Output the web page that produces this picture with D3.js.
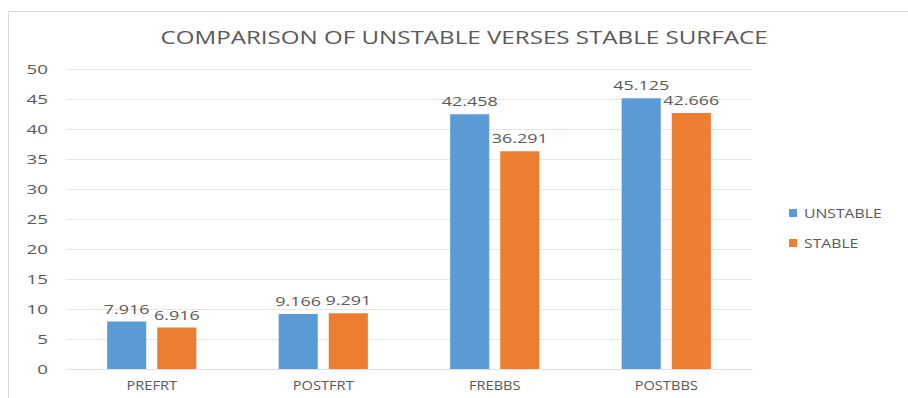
<!DOCTYPE html>
<html>
<head>
<meta charset="utf-8">
<script src="https://cdn.jsdelivr.net/npm/d3@7"></script>
<style>
  body { margin: 0; background: #fff; }
  text { font-family: "Open Sans", "Liberation Sans", sans-serif; fill: #595959; }
</style>
</head>
<body>
<div class="chart"></div>
<script>
const categories = ["PREFRT", "POSTFRT", "FREBBS", "POSTBBS"];
const seriesNames = ["UNSTABLE", "STABLE"];
const unstable = [7.916, 9.166, 42.458, 45.125];
const stable = [6.916, 9.291, 36.291, 42.666];
const yTicks = [0, 5, 10, 15, 20, 25, 30, 35, 40, 45, 50];
const colors = ["#5b9bd5", "#ed7d31"];

const margin = ({top: 69, right: 156, bottom: 29, left: 66});
const W = 908, H = 398;
const width = W - margin.left - margin.right, height = H - margin.top - margin.bottom;

const data = categories.map((c, i) => ({cat: c, values: [unstable[i], stable[i]]}));

// the source picture is stretched sideways, so text is widened with a scale
const stretch = (sel, x, y, sx) => sel.attr('transform', `translate(${x},${y}) scale(${sx},1)`);

const svg = d3.select('.chart').append('svg')
    .attr('width', W).attr('height', H);

// chart frame
svg.append('rect')
    .attr('x', 8.5).attr('y', 11.5)
    .attr('width', W + 10).attr('height', H + 10)
    .attr('fill', 'none')
    .attr('stroke', '#d9d9d9');

svg.append('text')
    .attr('text-anchor', 'middle')
    .attr('font-size', 17.5)
    .call(stretch, 464, 44, 1.38)
    .text('COMPARISON OF UNSTABLE VERSES STABLE SURFACE');

const g = svg.append('g')
    .attr('transform', `translate(${margin.left},${margin.top})`);

const x0 = d3.scaleBand().domain(categories).range([0, width]).paddingInner(0.48).paddingOuter(0.24);
const x1 = d3.scaleBand().domain(seriesNames).range([0, x0.bandwidth()]).paddingInner(0.22);
const y = d3.scaleLinear().domain([0, 50]).range([height, 0]);

const yAxis = d3.axisLeft(y).tickValues(yTicks).tickSize(-width);
g.append('g').attr('class', 'y-axis').call(yAxis)
    .call(s => s.select('.domain').remove())
    .call(s => s.selectAll('.tick line').attr('stroke', '#e6e6e6'))
    .call(s => s.selectAll('.tick text')
        .attr('font-size', 12.5).attr('fill', '#595959')
        .attr('x', 0).attr('dy', '0.35em')
        .attr('transform', 'translate(-18,0) scale(1.5,1)'));

const xAxis = d3.axisBottom(x0).tickSize(0).tickPadding(12);
g.append('g').attr('transform', `translate(0,${height})`).call(xAxis)
    .call(s => s.select('.domain').attr('stroke', '#e0e0e0'))
    .call(s => s.selectAll('.tick text').attr('font-size', 12).attr('fill', '#595959')
        .attr('transform', 'scale(1.22,1)'));

const groups = g.selectAll('.grp').data(data).enter().append('g')
    .attr('transform', d => `translate(${x0(d.cat)},0)`);

groups.selectAll('rect')
    .data(d => d.values.map((v, i) => ({key: seriesNames[i], v: v, i: i})))
    .enter().append('rect')
    .attr('x', d => x1(d.key))
    .attr('y', d => y(d.v))
    .attr('width', x1.bandwidth())
    .attr('height', d => height - y(d.v))
    .attr('fill', d => colors[d.i]);

groups.selectAll('.lbl')
    .data(d => d.values.map((v, i) => ({key: seriesNames[i], v: v, i: i})))
    .enter().append('text')
    .attr('text-anchor', 'middle')
    .attr('font-size', 13)
    .each(function(d) {
        d3.select(this).call(stretch, x1(d.key) + x1.bandwidth() / 2, y(d.v) - 8, 1.38);
    })
    .text(d => d.v.toFixed(3));

const legend = svg.append('g').attr('transform', 'translate(789,209)');
seriesNames.forEach((s, i) => {
    legend.append('rect')
        .attr('x', 0).attr('y', i * 30)
        .attr('width', 8).attr('height', 8)
        .attr('fill', colors[i]);
    legend.append('text')
        .attr('font-size', 12.5)
        .call(stretch, 15, i * 30 + 9, 1.26)
        .text(s);
});
</script>
</body>
</html>
